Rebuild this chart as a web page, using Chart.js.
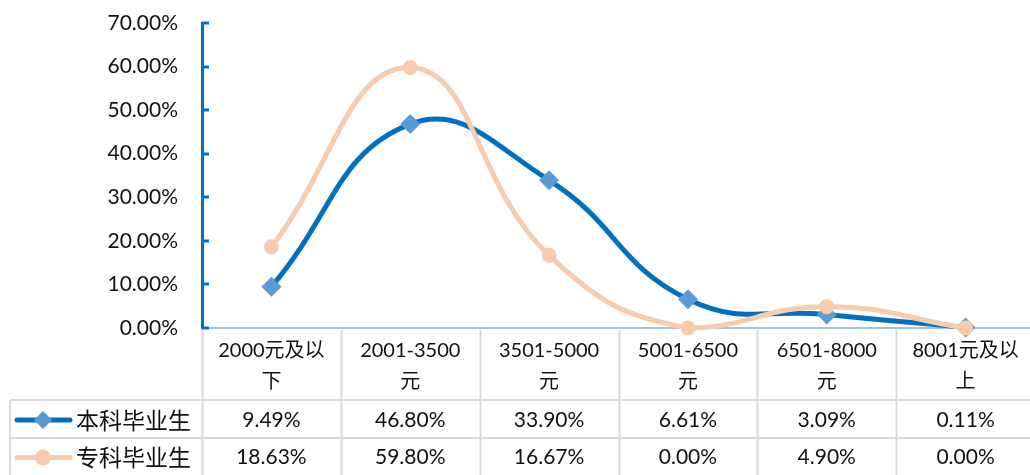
<!DOCTYPE html>
<html>
<head>
<meta charset="utf-8">
<script src="https://cdn.jsdelivr.net/npm/chart.js@4/dist/chart.umd.min.js"></script>
<style>
html, body { margin: 0; padding: 0; background: #fff; overflow: hidden; }
#wrap { width: 1045px; height: 475px; position: relative; }
</style>
</head>
<body>
<div id="wrap"><canvas id="c"></canvas></div>
<script>
// categories (two-line header labels, like the Excel data table)
const categories = [
    ['2000元及以', '下'],
    ['2001-3500', '元'],
    ['3501-5000', '元'],
    ['5001-6500', '元'],
    ['6501-8000', '元'],
    ['8001元及以', '上']
];
const seriesNames = ['本科毕业生', '专科毕业生'];
const benkeValues = [9.49, 46.80, 33.90, 6.61, 3.09, 0.11];
const zhuankeValues = [18.63, 59.80, 16.67, 0.00, 4.90, 0.00];
const yMax = 70;
const yStep = 10;

const FONT = "Lato, 'Noto Sans CJK SC', sans-serif";
const BLUE = '#0070c0';
const BLUE_MARK = '#5b9bd5';
const PEACH = '#f8cbad';
const GRID = '#d9d9d9';

const pct = v => v.toFixed(2) + '%';

// draws the inside ticks on the y axis and the data table under the plot
const tablePlugin = {
    id: 'dataTable',
    afterDraw(chart) {
        const { ctx, chartArea } = chart;
        const x = chart.scales.x;
        const y = chart.scales.y;
        const n = categories.length;
        const step = (chartArea.right - chartArea.left) / n;

        // y ticks pointing into the plot
        ctx.save();
        ctx.strokeStyle = BLUE;
        ctx.lineWidth = 3;
        y.ticks.forEach(t => {
            const py = Math.round(y.getPixelForValue(t.value));
            ctx.beginPath();
            ctx.moveTo(chartArea.left, py);
            ctx.lineTo(chartArea.left + 7, py);
            ctx.stroke();
        });
        ctx.restore();

        const headTop = chartArea.bottom + 2;
        const row1 = chartArea.bottom + x.height;
        const row2 = row1 + 38;
        const bottom = chart.height;
        const legendLeft = 10;

        ctx.save();
        ctx.strokeStyle = GRID;
        ctx.lineWidth = 2;
        ctx.beginPath();
        for (let i = 0; i <= n; i++) {
            const px = Math.round(chartArea.left + i * step) + 0.5;
            ctx.moveTo(px, headTop);
            ctx.lineTo(px, bottom);
        }
        ctx.moveTo(legendLeft, row1);
        ctx.lineTo(chartArea.right, row1);
        ctx.moveTo(legendLeft, row2);
        ctx.lineTo(chartArea.right, row2);
        ctx.moveTo(legendLeft, row1);
        ctx.lineTo(legendLeft, bottom);
        ctx.stroke();

        // value rows
        const rows = [
            { name: seriesNames[0], values: benkeValues, color: BLUE, mark: BLUE_MARK, style: 'diamond', top: row1, h: row2 - row1 },
            { name: seriesNames[1], values: zhuankeValues, color: PEACH, mark: PEACH, style: 'circle', top: row2, h: bottom - row2 }
        ];
        ctx.textBaseline = 'middle';
        rows.forEach(r => {
            const cy = r.top + r.h / 2 + 1;
            // legend key
            ctx.strokeStyle = r.color;
            ctx.lineWidth = 5;
            ctx.lineCap = 'round';
            ctx.beginPath();
            ctx.moveTo(17, cy);
            ctx.lineTo(70, cy);
            ctx.stroke();
            ctx.fillStyle = r.mark;
            ctx.beginPath();
            if (r.style === 'diamond') {
                ctx.moveTo(43, cy - 9);
                ctx.lineTo(52, cy);
                ctx.lineTo(43, cy + 9);
                ctx.lineTo(34, cy);
                ctx.closePath();
            } else {
                ctx.arc(43, cy, 8, 0, Math.PI * 2);
            }
            ctx.fill();
            ctx.fillStyle = '#111';
            ctx.font = "23px 'Noto Sans CJK SC', sans-serif";
            ctx.textAlign = 'left';
            ctx.fillText(r.name, 76, cy);

            ctx.font = '21px ' + FONT;
            ctx.textAlign = 'center';
            r.values.forEach((v, i) => {
                ctx.fillText(pct(v), x.getPixelForValue(i), cy);
            });
        });
        ctx.restore();
    }
};

new Chart(document.getElementById('c'), {
    type: 'line',
    data: {
        labels: categories,
        datasets: [
            {
                label: seriesNames[0],
                data: benkeValues,
                borderColor: BLUE,
                borderWidth: 5,
                pointStyle: 'rectRot',
                pointRadius: 10,
                pointHoverRadius: 10,
                pointBackgroundColor: BLUE_MARK,
                pointBorderWidth: 0,
                tension: 0.45,
                order: 2
            },
            {
                label: seriesNames[1],
                data: zhuankeValues,
                borderColor: PEACH,
                borderWidth: 5,
                pointStyle: 'circle',
                pointRadius: 7.5,
                pointHoverRadius: 7.5,
                pointBackgroundColor: PEACH,
                pointBorderWidth: 0,
                tension: 0.45,
                order: 1
            }
        ]
    },
    options: {
        responsive: true,
        maintainAspectRatio: false,
        animation: false,
        clip: false,
        layout: { padding: { top: 23, right: 5, bottom: 75, left: 0 } },
        plugins: {
            legend: { display: false },
            tooltip: { enabled: false }
        },
        scales: {
            x: {
                offset: true,
                grid: { display: false, drawTicks: false },
                border: { color: '#9dc3e6', width: 2 },
                ticks: {
                    color: '#111',
                    padding: 7,
                    maxRotation: 0,
                    autoSkip: false,
                    font: { family: FONT, size: 20, lineHeight: 1.55 }
                },
                afterFit(scale) { scale.height = 72; }
            },
            y: {
                min: 0,
                max: yMax,
                grid: { display: false, drawTicks: false },
                border: { color: BLUE, width: 3 },
                ticks: {
                    stepSize: yStep,
                    color: '#111',
                    padding: 24,
                    font: { family: FONT, size: 21 },
                    callback: v => pct(v)
                },
                afterFit(scale) {
                    scale.width = 202;
                    scale.paddingTop = 0;
                    scale.paddingBottom = 0;
                }
            }
        }
    },
    plugins: [tablePlugin]
});
</script>
</body>
</html>
